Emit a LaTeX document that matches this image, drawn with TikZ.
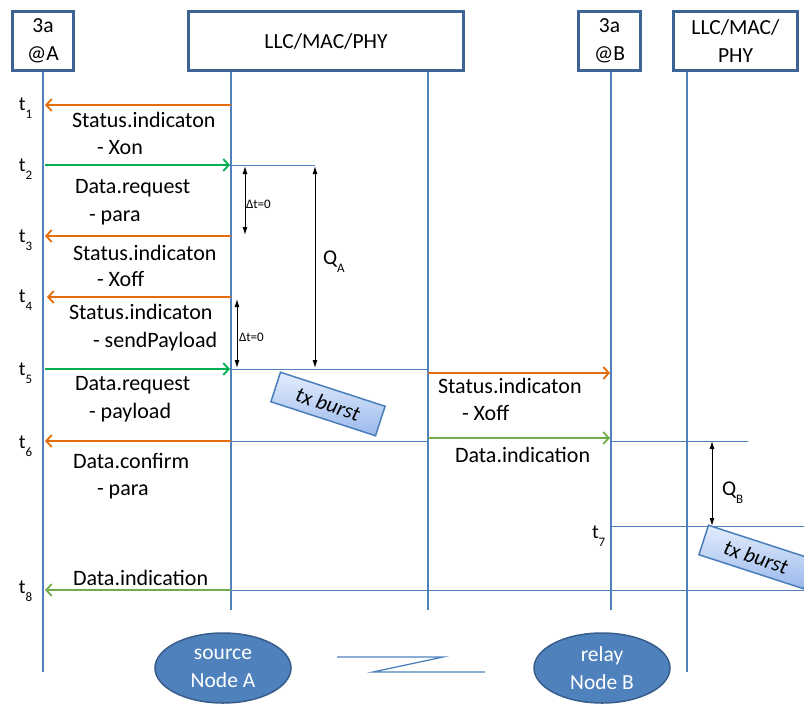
\documentclass[tikz,border=0pt]{standalone}
\usepackage{fontspec}
\setmainfont{Carlito}
\usetikzlibrary{arrows.meta,shapes.geometric}

\definecolor{boxline}{HTML}{3C6494}
\definecolor{life}{HTML}{4F81BD}
\definecolor{sigorange}{HTML}{E46C0A}
\definecolor{siggreen}{HTML}{00B050}
\definecolor{indgreen}{HTML}{70AD47}
\definecolor{burstline}{HTML}{4A7EBB}
\definecolor{bursttop}{HTML}{E3EDFC}
\definecolor{burstbot}{HTML}{9BB9EC}
\definecolor{nodefill}{HTML}{4F81BD}
\definecolor{nodeline}{HTML}{385D8A}

% subscript helper for time stamps and queue labels
\newcommand\lowsub[3]{#1\raisebox{-#3}{\fontsize{13}{14}\selectfont #2}}

\begin{document}
\begin{tikzpicture}[x=1pt,y=-1pt,
  every node/.style={inner sep=0pt, outer sep=0pt},
  entity/.style={draw=boxline, line width=3pt, fill=white, align=center,
    font=\fontsize{21.5}{28}\selectfont},
  lifeline/.style={draw=life, line width=1.8pt},
  tick/.style={draw=life, line width=1pt},
  msg/.style={line width=2.4pt, -{Straight Barb[length=5.5pt,width=12pt,line width=1.8pt]}},
  orangemsg/.style={msg, draw=sigorange},
  greenmsg/.style={msg, draw=siggreen},
  indmsg/.style={msg, draw=indgreen},
  span/.style={line width=1pt, {Latex[length=8pt,width=5pt]}-{Latex[length=8pt,width=5pt]}},
  lbl/.style={anchor=base west, font=\fontsize{22}{26}\selectfont},
  tlbl/.style={anchor=base west, font=\fontsize{20}{22}\selectfont},
  dlbl/.style={anchor=west, font=\fontsize{13}{15}\selectfont},
  qlbl/.style={anchor=base west, font=\fontsize{21}{24}\selectfont},
  burst/.style={draw=burstline, line width=1.5pt, top color=bursttop, bottom color=burstbot,
    minimum width=110pt, minimum height=31pt, font=\fontsize{21.5}{24}\selectfont\itshape},
  station/.style={ellipse, draw=nodeline, line width=1.5pt, fill=nodefill, text=white,
    minimum width=136pt, minimum height=70pt, align=center, font=\fontsize{21.5}{28}\selectfont}
]
\useasboundingbox (0,0) rectangle (804,705);

% entity boxes
\node[entity, minimum width=61pt, minimum height=59pt] (A) at (43,41) {3a\\@A};
\node[entity, minimum width=275pt, minimum height=59pt] (LA) at (326,41) {LLC/MAC/PHY};
\node[entity, minimum width=62pt, minimum height=59pt] (B) at (609.5,41) {3a\\@B};
\node[entity, minimum width=124pt, minimum height=59pt] (LB) at (735.5,41) {LLC/MAC/\\PHY};

% lifelines
\coordinate (aT) at (43,72);   \coordinate (aE) at (43,672);
\coordinate (lT) at (231,72);  \coordinate (lE) at (231,610);
\coordinate (mT) at (428,72);  \coordinate (mE) at (428,610);
\coordinate (bT) at (611,72);  \coordinate (bE) at (611,610);
\coordinate (rT) at (687,72);  \coordinate (rE) at (687,672);
\draw[lifeline] (aT) -- (aE);
\draw[lifeline] (lT) -- (lE);
\draw[lifeline] (mT) -- (mE);
\draw[lifeline] (bT) -- (bE);
\draw[lifeline] (rT) -- (rE);

% time marks on the lower layer
\coordinate (h2a) at (231,165); \coordinate (h2b) at (315,165);
\coordinate (h5a) at (231,369); \coordinate (h5b) at (428,369);
\coordinate (h6a) at (231,441); \coordinate (h6b) at (428,441);
\coordinate (h6c) at (611,441); \coordinate (h6d) at (748,441);
\coordinate (h7a) at (611,526); \coordinate (h7b) at (804,526);
\coordinate (h8a) at (231,590); \coordinate (h8b) at (804,590);
\draw[tick] (h2a) -- (h2b);
\draw[tick] (h5a) -- (h5b);
\draw[tick] (h6a) -- (h6b);
\draw[tick] (h6c) -- (h6d);
\draw[tick] (h7a) -- (h7b);
\draw[tick] (h8a) -- (h8b);

% primitives between 3a@A and its lower layer
\coordinate (s1) at (231,105); \coordinate (e1) at (45,105);
\coordinate (s2) at (45,165);  \coordinate (e2) at (230,165);
\coordinate (s3) at (231,236); \coordinate (e3) at (45,236);
\coordinate (s4) at (231,297); \coordinate (e4) at (47,297);
\coordinate (s5) at (45,369);  \coordinate (e5) at (230,369);
\coordinate (s6) at (231,441); \coordinate (e6) at (45,441);
\coordinate (s8) at (231,590); \coordinate (e8) at (45,590);
\draw[orangemsg] (s1) -- (e1);
\draw[greenmsg]  (s2) -- (e2);
\draw[orangemsg] (s3) -- (e3);
\draw[orangemsg] (s4) -- (e4);
\draw[greenmsg]  (s5) -- (e5);
\draw[orangemsg] (s6) -- (e6);
\draw[indmsg]    (s8) -- (e8);

% primitives towards 3a@B
\coordinate (sb1) at (428,373); \coordinate (eb1) at (610,373);
\coordinate (sb2) at (428,438); \coordinate (eb2) at (610,438);
\draw[orangemsg] (sb1) -- (eb1);
\draw[indmsg]    (sb2) -- (eb2);

% time stamps
\node[tlbl] (t1) at (19,110) {\lowsub{t}{1}{8pt}};
\node[tlbl] (t2) at (19,171) {\lowsub{t}{2}{8pt}};
\node[tlbl] (t3) at (19,242) {\lowsub{t}{3}{8pt}};
\node[tlbl] (t4) at (19,302) {\lowsub{t}{4}{8pt}};
\node[tlbl] (t5) at (19,375) {\lowsub{t}{5}{8pt}};
\node[tlbl] (t6) at (19,448) {\lowsub{t}{6}{8pt}};
\node[tlbl] (t7) at (592,538) {\lowsub{t}{7}{8pt}};
\node[tlbl] (t8) at (19,593) {\lowsub{t}{8}{8pt}};

% message labels
\node[lbl] (m1)  at (72,127) {Status.indicaton};
\node[lbl] (m1p) at (97,154) {- Xon};
\node[lbl] (m2)  at (75,193) {Data.request};
\node[lbl] (m2p) at (89,221) {- para};
\node[lbl] (m3)  at (73,260) {Status.indicaton};
\node[lbl] (m3p) at (97,286) {- Xoff};
\node[lbl] (m4)  at (69,319) {Status.indicaton};
\node[lbl] (m4p) at (93,347) {- sendPayload};
\node[lbl] (m5)  at (75,390) {Data.request};
\node[lbl] (m5p) at (89,418) {- payload};
\node[lbl] (m6)  at (73,468) {Data.confirm};
\node[lbl] (m6p) at (97,495) {- para};
\node[lbl] (m8)  at (73,585) {Data.indication};
\node[lbl] (n1)  at (438,393) {Status.indicaton};
\node[lbl] (n1p) at (462,420) {- Xoff};
\node[lbl] (n2)  at (455,462) {Data.indication};

% delays and queueing times
\coordinate (d1a) at (245,166); \coordinate (d1b) at (245,235);
\coordinate (d2a) at (237,299); \coordinate (d2b) at (237,368);
\coordinate (qaa) at (315,166); \coordinate (qab) at (315,368);
\coordinate (qba) at (712,441); \coordinate (qbb) at (712,526);
\draw[span] (d1a) -- (d1b);
\draw[span] (d2a) -- (d2b);
\draw[span] (qaa) -- (qab);
\draw[span] (qba) -- (qbb);
\node[dlbl] (dt1) at (246,204) {Δt=0};
\node[dlbl] (dt2) at (239,337) {Δt=0};
\node[qlbl] (qa) at (323,264) {\lowsub{Q}{A}{8pt}};
\node[qlbl] (qb) at (722,495) {\lowsub{Q}{B}{8pt}};

% transmissions
\node[burst, rotate=-18] (bA) at (328,404) {tx burst};
\node[burst, rotate=-18] (bB) at (756,557) {tx burst};

% the two stations and the radio link
\node[station] (srcA) at (223,668) {source\\Node A};
\node[station] (relB) at (602,668) {relay\\Node B};
\draw[draw=life, line width=1.3pt] (337,657) -- (443,657) -- (373,672) -- (485,672);
\end{tikzpicture}
\end{document}
